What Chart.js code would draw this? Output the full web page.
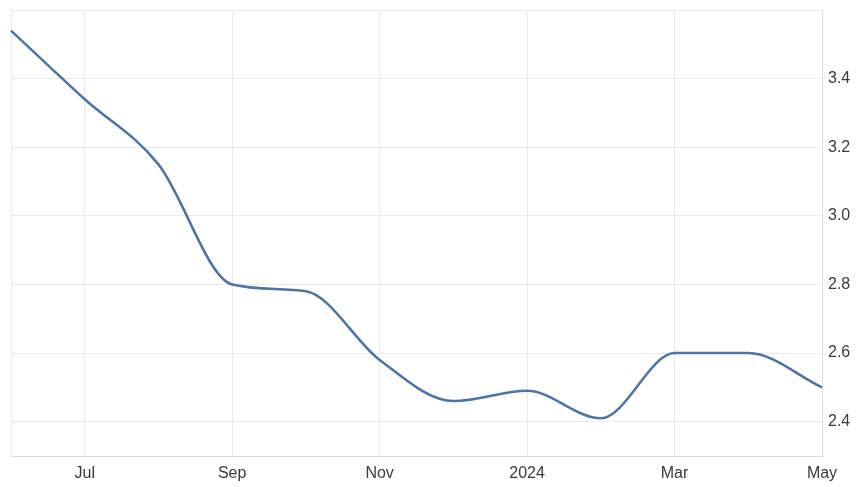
<!DOCTYPE html>
<html>
<head>
<meta charset="utf-8">
<script src="https://cdn.jsdelivr.net/npm/chart.js@4/dist/chart.umd.min.js"></script>
<style>
  html, body { margin: 0; padding: 0; background: #fff; }
  #wrap { width: 856px; height: 487px; }
</style>
</head>
<body>
<div id="wrap"><canvas id="chart" width="856" height="487"></canvas></div>
<script>
// monthly values, Jun 2023 .. May 2024
var months = ['Jun', 'Jul', 'Aug', 'Sep', 'Oct', 'Nov', 'Dec', '2024', 'Feb', 'Mar', 'Apr', 'May'];
var values = [3.54, 3.34, 3.15, 2.80, 2.78, 2.58, 2.46, 2.49, 2.41, 2.60, 2.60, 2.50];
var yTicks = [2.4, 2.6, 2.8, 3.0, 3.2, 3.4, 3.6];

var grid = '#e9e9e9';
var font = { family: 'Liberation Sans, Arial, sans-serif', size: 16 };

new Chart(document.getElementById('chart'), {
  type: 'line',
  data: {
    labels: months,
    datasets: [{
      data: values,
      borderColor: '#4c74a6',
      borderWidth: 2.5,
      pointRadius: 0,
      fill: false,
      cubicInterpolationMode: 'monotone'
    }]
  },
  options: {
    responsive: false,
    animation: false,
    layout: { autoPadding: false, padding: { left: 11, top: 10, right: 0, bottom: 0 } },
    plugins: { legend: { display: false }, tooltip: { enabled: false } },
    scales: {
      x: {
        offset: false,
        afterFit: function(axis) { axis.height = 31; },
        grid: {
          color: function(ctx) {
            var i = ctx.index;
            return (i % 2 === 1 || i === 0) ? grid : 'rgba(0,0,0,0)';
          },
          drawTicks: false
        },
        border: { color: '#dcdcdc' },
        ticks: {
          autoSkip: false,
          maxRotation: 0,
          padding: 8,
          color: '#3a3a3a',
          font: font,
          callback: function(v, i) { return i % 2 === 1 ? months[i] : ''; }
        }
      },
      y: {
        position: 'right',
        min: 2.3,
        max: 3.6,
        afterFit: function(axis) { axis.width = 34; },
        afterBuildTicks: function(axis) {
          axis.ticks = yTicks.map(function(v) { return { value: v }; });
        },
        grid: { color: grid, drawTicks: false },
        border: { color: '#dcdcdc' },
        ticks: {
          padding: 6,
          color: '#3a3a3a',
          font: function(ctx) {
            if (ctx.tick && ctx.tick.value > 3.55) {
              return { family: font.family, size: 1 };
            }
            return font;
          },
          callback: function(v) { return v >= 3.55 ? '' : v.toFixed(1); }
        }
      }
    }
  }
});
</script>
</body>
</html>
